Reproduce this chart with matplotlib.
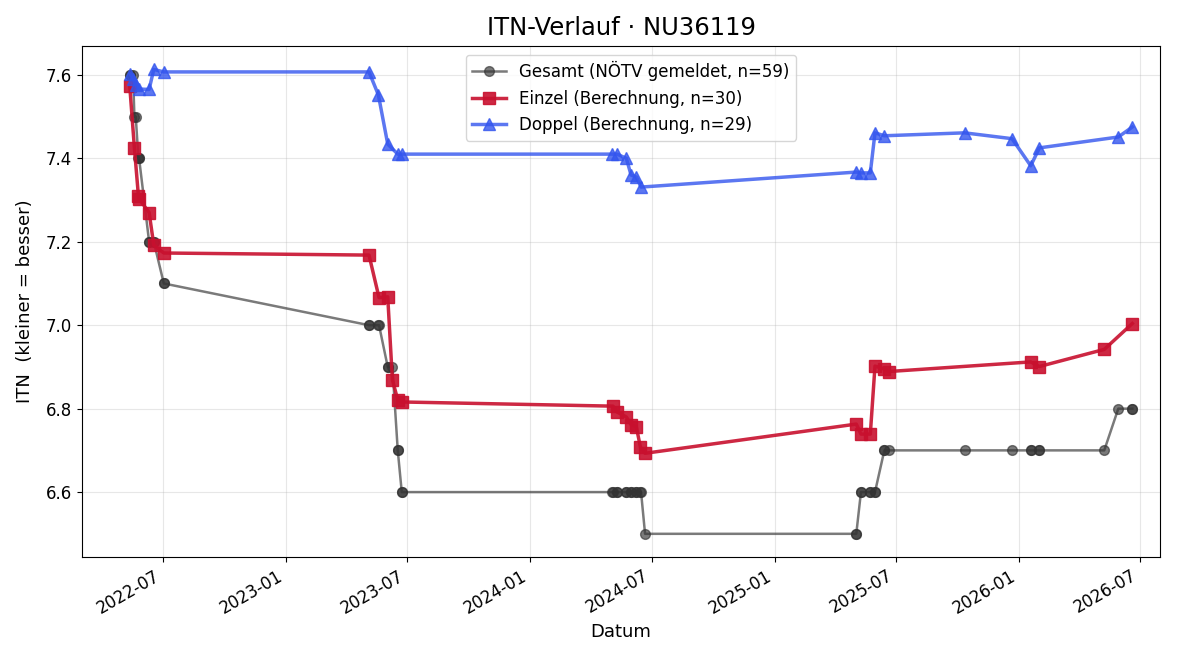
import numpy as np
import pandas as pd
import matplotlib
matplotlib.use("Agg")
import matplotlib.pyplot as plt
import matplotlib.dates as mdates

# Einzel (Berechnung)
einzel_dates = ["2022-05-12", "2022-05-19", "2022-05-25", "2022-05-26", "2022-06-10",
                "2022-06-17", "2022-07-02", "2023-05-05", "2023-05-20", "2023-06-02",
                "2023-06-09", "2023-06-17", "2023-06-23", "2024-05-04", "2024-05-10",
                "2024-05-24", "2024-05-31", "2024-06-08", "2024-06-14", "2024-06-21",
                "2025-05-03", "2025-05-10", "2025-05-24", "2025-05-31", "2025-06-14",
                "2025-06-21", "2026-01-19", "2026-02-01", "2026-05-09", "2026-06-20"]
einzel_vals = [7.574, 7.425, 7.31, 7.303, 7.27, 7.192, 7.173, 7.168, 7.066, 7.068,
               6.869, 6.821, 6.816, 6.806, 6.792, 6.78, 6.762, 6.756, 6.708, 6.693,
               6.763, 6.739, 6.739, 6.902, 6.895, 6.889, 6.912, 6.901, 6.942, 7.004]

# Doppel (Berechnung)
doppel_dates = ["2022-05-13", "2022-05-17", "2022-05-21", "2022-05-26", "2022-06-10",
                "2022-06-17", "2022-07-02", "2023-05-05", "2023-05-19", "2023-06-02",
                "2023-06-17", "2023-06-23", "2024-05-03", "2024-05-10", "2024-05-24",
                "2024-05-31", "2024-06-08", "2024-06-15", "2025-05-03", "2025-05-10",
                "2025-05-24", "2025-05-31", "2025-06-14", "2025-10-12", "2025-12-22",
                "2026-01-19", "2026-02-01", "2026-05-30", "2026-06-20"]
doppel_vals = [7.602, 7.59, 7.575, 7.566, 7.565, 7.613, 7.607, 7.607, 7.552, 7.434,
               7.41, 7.41, 7.41, 7.41, 7.40, 7.36, 7.355, 7.331, 7.367, 7.365,
               7.365, 7.461, 7.454, 7.461, 7.447, 7.382, 7.425, 7.451, 7.475]

# Gesamt (NÖTV gemeldet)
gesamt_dates = ["2022-05-12", "2022-05-13", "2022-05-17", "2022-05-19", "2022-05-21",
                "2022-05-25", "2022-05-26", "2022-05-26", "2022-06-10", "2022-06-10",
                "2022-06-17", "2022-06-17", "2022-07-02", "2022-07-02", "2023-05-05",
                "2023-05-05", "2023-05-19", "2023-05-20", "2023-06-02", "2023-06-02",
                "2023-06-09", "2023-06-17", "2023-06-17", "2023-06-23", "2023-06-23",
                "2024-05-03", "2024-05-04", "2024-05-10", "2024-05-10", "2024-05-24",
                "2024-05-24", "2024-05-31", "2024-05-31", "2024-06-08", "2024-06-08",
                "2024-06-14", "2024-06-15", "2024-06-21", "2025-05-03", "2025-05-03",
                "2025-05-10", "2025-05-10", "2025-05-24", "2025-05-24", "2025-05-31",
                "2025-05-31", "2025-06-14", "2025-06-14", "2025-06-21", "2025-10-12",
                "2025-12-22", "2026-01-19", "2026-01-19", "2026-02-01", "2026-02-01",
                "2026-05-09", "2026-05-30", "2026-06-20", "2026-06-20"]
gesamt_vals = [7.6, 7.6, 7.6, 7.5, 7.5, 7.4, 7.4, 7.4, 7.2, 7.2,
               7.2, 7.2, 7.1, 7.1, 7.0, 7.0, 7.0, 7.0, 6.9, 6.9,
               6.9, 6.7, 6.7, 6.6, 6.6, 6.6, 6.6, 6.6, 6.6, 6.6,
               6.6, 6.6, 6.6, 6.6, 6.6, 6.6, 6.6, 6.5, 6.5, 6.5,
               6.6, 6.6, 6.6, 6.6, 6.6, 6.6, 6.7, 6.7, 6.7, 6.7,
               6.7, 6.7, 6.7, 6.7, 6.7, 6.7, 6.8, 6.8, 6.8]

fig, ax = plt.subplots(figsize=(12, 6.6), dpi=100)

ax.plot(pd.to_datetime(gesamt_dates), gesamt_vals, marker="o", markersize=7,
        linewidth=1.8, color="#333333", alpha=0.65,
        label=f"Gesamt (NÖTV gemeldet, n={len(gesamt_vals)})")
ax.plot(pd.to_datetime(einzel_dates), einzel_vals, marker="s", markersize=8,
        linewidth=2.5, color="#c8102e", alpha=0.9,
        label=f"Einzel (Berechnung, n={len(einzel_vals)})")
ax.plot(pd.to_datetime(doppel_dates), doppel_vals, marker="^", markersize=8,
        linewidth=2.5, color="#3355ee", alpha=0.8,
        label=f"Doppel (Berechnung, n={len(doppel_vals)})")

ax.set_title("ITN-Verlauf · NU36119", fontsize=17.5, pad=8)
ax.set_xlabel("Datum", fontsize=13)
ax.set_ylabel("ITN  (kleiner = besser)", fontsize=13, labelpad=8)
ax.tick_params(labelsize=12)
ax.grid(True, alpha=0.3)
ax.legend(loc="upper center", bbox_to_anchor=(0.509, 1.0), fontsize=12)

ax.set_xlim(pd.Timestamp("2022-03-01"), pd.Timestamp("2026-08-01"))
ax.xaxis.set_major_locator(mdates.MonthLocator(bymonth=[1, 7]))
ax.xaxis.set_major_formatter(mdates.DateFormatter("%Y-%m"))
fig.autofmt_xdate()

fig.subplots_adjust(left=0.068, right=0.967, top=0.930, bottom=0.156)
plt.savefig("out.png")
